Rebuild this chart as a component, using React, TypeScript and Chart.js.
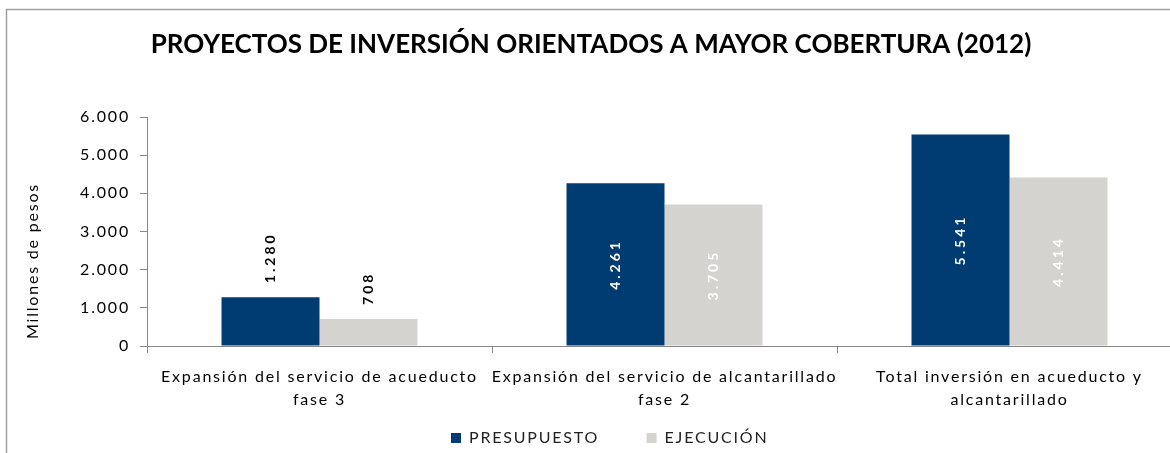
import { useEffect, useRef } from "react";
import { Chart, registerables } from "chart.js";

Chart.register(...registerables);

const chartTitle = "PROYECTOS DE INVERSIÓN ORIENTADOS A MAYOR COBERTURA (2012)";
const yAxisTitle = "Millones de pesos";
const categories = [
  ["Expansión del servicio de acueducto", "fase 3"],
  ["Expansión del servicio de alcantarillado", "fase 2"],
  ["Total inversión en acueducto y", "alcantarillado"],
];
const seriesNames = ["PRESUPUESTO", "EJECUCIÓN"];
const presupuesto = [1280, 4261, 5541];
const ejecucion = [708, 3705, 4414];
const yMin = 0;
const yMax = 6000;
const yStep = 1000;

const DARK = "#003C71";
const LIGHT = "#D5D3D0";
const SPACING = "1.8px";

const fmt = (n: number) => String(n).replace(/\B(?=(\d{3})+(?!\d))/g, ".");

const framePlugin = {
  id: "frame",
  beforeDraw(chart: any) {
    const ctx = chart.ctx;
    ctx.save();
    ctx.fillStyle = "#ffffff";
    ctx.fillRect(0, 0, chart.width, chart.height);
    ctx.strokeStyle = "#A0A0A0";
    ctx.lineWidth = 1.5;
    ctx.beginPath();
    ctx.moveTo(6.5, chart.height + 5);
    ctx.lineTo(6.5, 9.5);
    ctx.lineTo(chart.width + 5, 9.5);
    ctx.stroke();
    ctx.restore();
    ctx.letterSpacing = SPACING;
  },
  afterDraw(chart: any) {
    const ctx = chart.ctx;
    const area = chart.chartArea;
    // chart title
    ctx.save();
    ctx.letterSpacing = "0px";
    ctx.font = 'bold 26px "Lato"';
    ctx.fillStyle = "#000000";
    ctx.textAlign = "center";
    ctx.textBaseline = "middle";
    ctx.fillText(chartTitle, area.right / 2, 45);
    ctx.restore();
    // y axis title
    ctx.save();
    ctx.letterSpacing = SPACING;
    ctx.font = '16px "Lato"';
    ctx.fillStyle = "#000000";
    ctx.textAlign = "center";
    ctx.textBaseline = "middle";
    ctx.translate(33, area.bottom - 85);
    ctx.rotate(-Math.PI / 2);
    ctx.fillText(yAxisTitle, 0, 0);
    ctx.restore();
  },
};

const labelPlugin = {
  id: "barLabels",
  afterDatasetsDraw(chart: any) {
    const ctx = chart.ctx;
    chart.data.datasets.forEach((ds: any, di: number) => {
      const meta = chart.getDatasetMeta(di);
      meta.data.forEach((bar: any, i: number) => {
        const v = ds.data[i] as number;
        const inside = v >= 2000;
        ctx.save();
        ctx.letterSpacing = "3px";
        ctx.font = 'bold 14px "Lato"';
        ctx.translate(bar.x, inside ? (bar.y + bar.base) / 2 : bar.y - 14);
        ctx.rotate(-Math.PI / 2);
        ctx.textAlign = inside ? "center" : "left";
        ctx.textBaseline = "middle";
        ctx.fillStyle = inside ? "#ffffff" : "#000000";
        ctx.fillText(fmt(v), 0, 0);
        ctx.restore();
      });
    });
  },
};

export default function App() {
  const ref = useRef<HTMLCanvasElement | null>(null);
  useEffect(() => {
    if (!ref.current) return;
    const chart = new Chart(ref.current, {
      type: "bar",
      data: {
        labels: categories,
        datasets: [
          {
            label: seriesNames[0],
            data: presupuesto,
            backgroundColor: DARK,
            categoryPercentage: 0.568,
            barPercentage: 1,
          },
          {
            label: seriesNames[1],
            data: ejecucion,
            backgroundColor: LIGHT,
            categoryPercentage: 0.568,
            barPercentage: 1,
          },
        ],
      },
      options: {
        responsive: false,
        animation: false,
        layout: { padding: { left: 16, right: 18, top: 117, bottom: 0 } },
        plugins: {
          tooltip: { enabled: false },
          title: { display: false },
          legend: {
            position: "bottom",
            labels: {
              boxWidth: 10,
              boxHeight: 10,
              padding: 10,
              color: "#222222",
              font: { family: "Lato", size: 16 },
              generateLabels: (chart: any) =>
                Chart.defaults.plugins.legend.labels
                  .generateLabels(chart)
                  .map((item: any, i: number, all: any[]) => ({
                    ...item,
                    text:
                      i < all.length - 1
                        ? item.text + "\u2003\u2003\u2002"
                        : item.text + "\u2003\u2002",
                  })),
            },
          },
        },
        scales: {
          x: {
            border: { color: "#888888" },
            grid: {
              drawOnChartArea: false,
              drawTicks: true,
              tickLength: 7,
              color: "#888888",
              offset: true,
            },
            ticks: {
              color: "#000000",
              font: { family: "Lato", size: 16, lineHeight: 1.44 },
              padding: 12,
              maxRotation: 0,
              autoSkip: false,
            },
            afterFit: (s: any) => {
              s.height = 74;
            },
          },
          y: {
            min: yMin,
            max: yMax,
            border: { color: "#888888" },
            grid: {
              drawOnChartArea: false,
              drawTicks: true,
              tickLength: 7,
              color: "#888888",
            },
            ticks: {
              stepSize: yStep,
              color: "#000000",
              font: { family: "Lato", size: 16 },
              padding: 10,
              callback: (v: any) => fmt(Number(v)),
            },
            afterFit: (s: any) => {
              s.width = 131;
            },
          },
        },
      },
      plugins: [framePlugin, labelPlugin],
    });
    return () => chart.destroy();
  }, []);

  return (
    <div
      style={{
        position: "fixed",
        left: 0,
        top: 0,
        width: 1170,
        height: 453,
        overflow: "hidden",
        background: "#fff",
      }}
    >
      <canvas ref={ref} width={1200} height={456} style={{ width: 1200, height: 456, display: "block" }} />
    </div>
  );
}
